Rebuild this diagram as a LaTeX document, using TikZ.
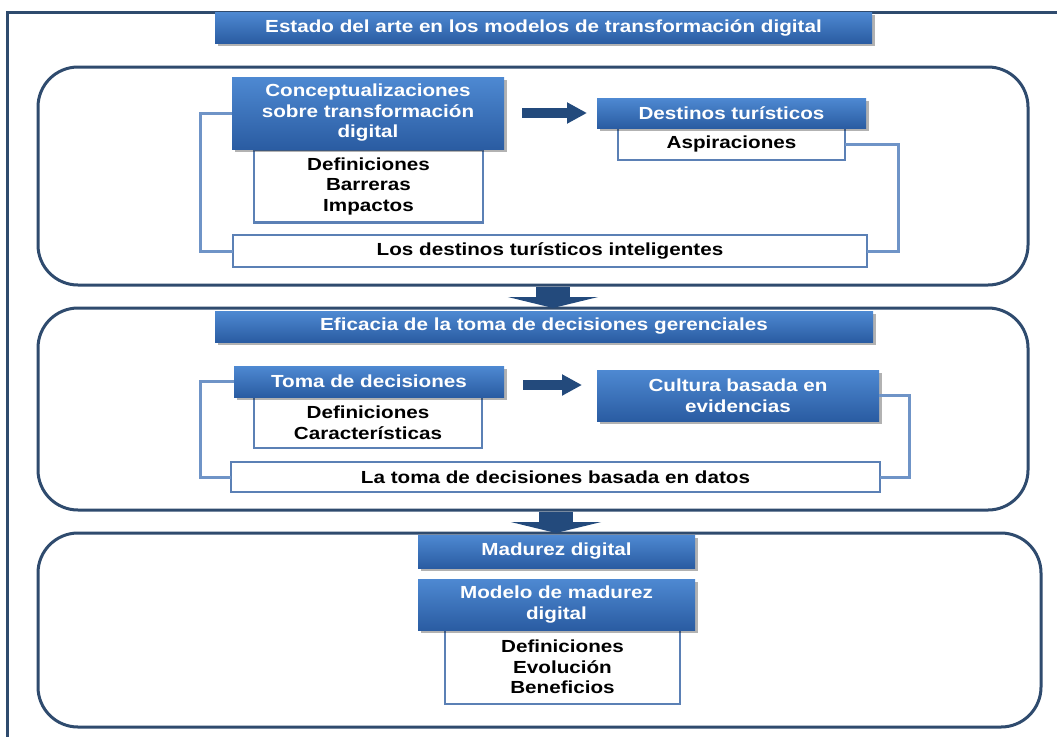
\documentclass[tikz,border=0pt]{standalone}
\usepackage{fontspec}
\setmainfont{Liberation Sans}[FakeStretch=1.18]
\usetikzlibrary{shadows,arrows.meta}
\definecolor{btop}{HTML}{4E89D2}
\definecolor{bbot}{HTML}{2A5CA2}
\definecolor{navy}{HTML}{234A7C}
\definecolor{framec}{HTML}{2F4B6E}
\definecolor{wborder}{HTML}{5B80B5}
\definecolor{brk}{HTML}{6F94C7}
\begin{document}
\begin{tikzpicture}[x=1pt,y=-1pt,
  txt/.style={font=\bfseries\fontsize{17.5}{20.5}\selectfont, align=center, inner sep=0pt, outer sep=0pt},
  bluebox/.style={txt, text=white, top color=btop, bottom color=bbot, draw=none,
    drop shadow={shadow xshift=2.5pt, shadow yshift=-2.5pt, opacity=0.3, fill=black}},
  whitebox/.style={txt, fill=white, draw=wborder, line width=2.5pt},
  framebox/.style={draw=framec, line width=3pt, rounded corners=40pt, fill=white, inner sep=0pt, outer sep=0pt},
  bracket/.style={draw=brk, line width=3pt},
  rarrow/.style={draw=navy, line width=10pt, -{Triangle[length=20pt,width=20pt]}},
  darrow/.style={draw=navy, line width=34pt, -{Triangle[length=11pt,width=90pt]}},
  outerframe/.style={draw=framec, line width=3pt}
]
\useasboundingbox (0,0) rectangle (1057,737);
\fill[white] (0,0) rectangle (1057,737);
% outer frame
\coordinate (oftr) at (1057,12);
\coordinate (oftl) at (7,12);
\coordinate (ofbl) at (7,737);
\draw[outerframe] (oftr) -- (oftl) -- (ofbl);

% rounded section frames
\node[framebox, minimum width=990, minimum height=218] (b1) at (533,176) {};
\node[framebox, minimum width=990, minimum height=202] (b2) at (533,409) {};
\node[framebox, minimum width=1003, minimum height=194] (b3) at (539.5,630) {};

% title
\node[bluebox, minimum width=657, minimum height=31] (title) at (543.5,27.5)
  {Estado del arte en los modelos de transformación digital};

% ---- section 1
\node[whitebox, minimum width=229, minimum height=73] (defs1) at (368.5,186)
  {Definiciones\\Barreras\\Impactos};
\node[whitebox, minimum width=227, minimum height=32] (asp) at (731.5,144) {Aspiraciones};
\node[whitebox, minimum width=634, minimum height=32] (los) at (550,251)
  {Los destinos turísticos inteligentes};
\draw[bracket] (232,113) -- ++(-32,0) |- (los.west);
\draw[bracket] (asp.east) -- ++(53,0) |- (los.east);
\node[bluebox, minimum width=272, minimum height=72] (concept) at (368,113)
  {Conceptualizaciones\\sobre transformación\\digital};
\node[bluebox, minimum width=269, minimum height=30] (dest) at (731.5,113) {Destinos turísticos};
\draw[rarrow] ([xshift=18pt]concept.east) -- ([xshift=-10pt]dest.west);

% ---- section 2
\node[bluebox, minimum width=658, minimum height=31] (efic) at (544,326.5)
  {Eficacia de la toma de decisiones gerenciales};
\node[whitebox, minimum width=228, minimum height=51] (defs2) at (368,422.5)
  {Definiciones\\Características};
\node[whitebox, minimum width=649, minimum height=30] (latoma) at (555.5,477)
  {La toma de decisiones basada en datos};
\node[bluebox, minimum width=270, minimum height=31] (toma) at (369,381.5) {Toma de decisiones};
\node[bluebox, minimum width=282, minimum height=51] (cultura) at (738,395.5)
  {Cultura basada en\\evidencias};
\draw[bracket] (toma.west) -- ++(-34,0) |- (latoma.west);
\draw[bracket] (cultura.east) -- ++(30,0) |- (latoma.east);
\coordinate (a2s) at ([yshift=-3.5pt]toma.east);
\coordinate (a2e) at (cultura.west |- a2s);
\draw[rarrow] ([xshift=19pt]a2s) -- ([xshift=-15pt]a2e);

% ---- section 3
\node[whitebox, minimum width=235, minimum height=74] (defs3) at (562.5,667)
  {Definiciones\\Evolución\\Beneficios};
\node[bluebox, minimum width=277, minimum height=33] (madurez) at (556.5,551.5) {Madurez digital};
\node[bluebox, minimum width=277, minimum height=51] (modelo) at (556.5,604.5)
  {Modelo de madurez\\digital};

% ---- down arrows between sections
\draw[darrow] ([xshift=20pt,yshift=-2pt]b1.south) -- ([xshift=20pt]b2.north);
\draw[darrow] ([xshift=23pt,yshift=-2pt]b2.south) -- ([xshift=16.5pt]b3.north);
\end{tikzpicture}
\end{document}
